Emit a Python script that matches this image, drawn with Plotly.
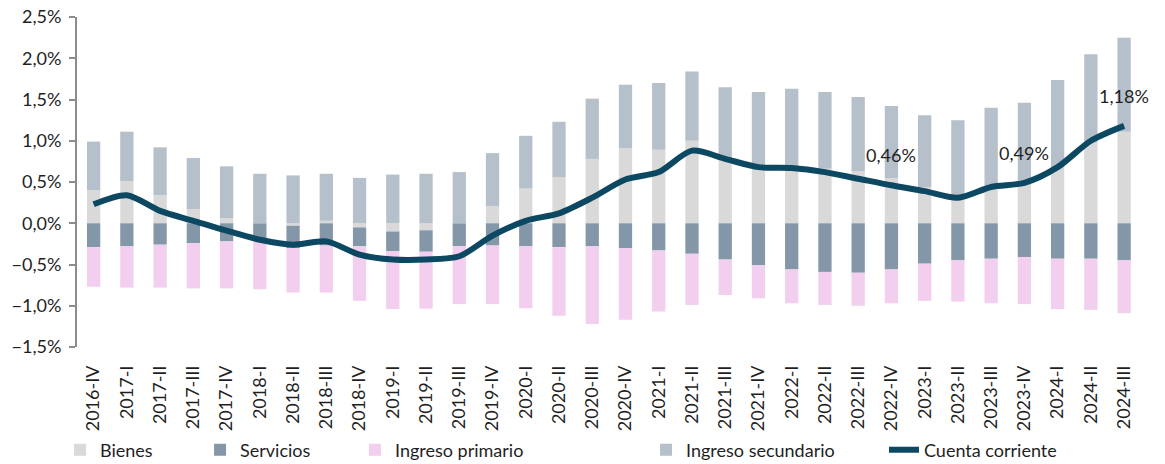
import plotly.graph_objects as go

categories = ["2016-IV",
              "2017-I", "2017-II", "2017-III", "2017-IV",
              "2018-I", "2018-II", "2018-III", "2018-IV",
              "2019-I", "2019-II", "2019-III", "2019-IV",
              "2020-I", "2020-II", "2020-III", "2020-IV",
              "2021-I", "2021-II", "2021-III", "2021-IV",
              "2022-I", "2022-II", "2022-III", "2022-IV",
              "2023-I", "2023-II", "2023-III", "2023-IV",
              "2024-I", "2024-II", "2024-III"]

bienes = [0.40, 0.51, 0.34, 0.17, 0.06, 0.00, -0.03, 0.03, -0.05, -0.10, -0.085, 0.00,
          0.21, 0.42, 0.56, 0.78, 0.91, 0.89, 1.00, 0.78, 0.70, 0.68, 0.66, 0.63,
          0.55, 0.44, 0.30, 0.45, 0.50, 0.68, 0.98, 1.11]
servicios = [-0.29, -0.28, -0.26, -0.24, -0.22, -0.22, -0.27, -0.27, -0.23, -0.24, -0.26, -0.28,
             -0.27, -0.28, -0.29, -0.28, -0.30, -0.33, -0.37, -0.44, -0.51, -0.56, -0.59, -0.60,
             -0.56, -0.49, -0.45, -0.43, -0.41, -0.43, -0.43, -0.45]
ingreso_primario = [-0.48, -0.50, -0.52, -0.55, -0.57, -0.58, -0.54, -0.57, -0.66, -0.70, -0.69, -0.70,
                    -0.71, -0.75, -0.83, -0.94, -0.87, -0.74, -0.62, -0.43, -0.40, -0.41, -0.40, -0.40,
                    -0.41, -0.45, -0.50, -0.54, -0.57, -0.61, -0.62, -0.64]
ingreso_secundario = [0.59, 0.60, 0.58, 0.62, 0.63, 0.60, 0.58, 0.57, 0.55, 0.59, 0.60, 0.62,
                      0.64, 0.64, 0.67, 0.73, 0.77, 0.81, 0.84, 0.87, 0.89, 0.95, 0.93, 0.90,
                      0.87, 0.87, 0.95, 0.95, 0.96, 1.055, 1.07, 1.14]
cuenta_corriente = [0.23, 0.34, 0.15, 0.03, -0.09, -0.20, -0.26, -0.22, -0.38, -0.44, -0.44, -0.40,
                    -0.15, 0.03, 0.12, 0.31, 0.53, 0.62, 0.88, 0.78, 0.68, 0.67, 0.62, 0.54,
                    0.46, 0.39, 0.31, 0.44, 0.49, 0.68, 1.00, 1.18]
labelled_points = ["2022-IV", "2023-IV", "2024-III"]

colors = {
    "Bienes": "#d9d9d9",
    "Servicios": "#8497a9",
    "Ingreso primario": "#f2cfee",
    "Ingreso secundario": "#b5c0ca",
    "Cuenta corriente": "#0c4862",
}

FONT = "Lato"
FS = 18
TXT = "#1f1f1f"
AX = "#8c8c8c"

fig = go.Figure()
bar_series = [("Bienes", bienes, "legend"), ("Servicios", servicios, "legend2"),
              ("Ingreso primario", ingreso_primario, "legend3"),
              ("Ingreso secundario", ingreso_secundario, "legend4")]
for name, vals, lg in bar_series:
    fig.add_trace(go.Bar(x=categories, y=vals, name=name, legend=lg,
                         marker=dict(color=colors[name], line=dict(width=0))))

fig.add_trace(go.Scatter(x=categories, y=cuenta_corriente, name="Cuenta corriente",
                         legend="legend5", mode="lines",
                         line=dict(color=colors["Cuenta corriente"], width=6, shape="spline",
                                   smoothing=0.8)))

for cat in labelled_points:
    i = categories.index(cat)
    v = cuenta_corriente[i]
    fig.add_annotation(x=cat, y=v, text=f"{v:.2f}".replace(".", ",") + "%",
                       showarrow=False, yshift=30, font=dict(family=FONT, size=FS, color=TXT))

n = len(categories)
x_range = [-0.5, 32.23]
y_min, y_max = -1.5, 2.5

legend_common = dict(orientation="h", yanchor="middle", y=-0.312, xanchor="left",
                     font=dict(family=FONT, size=FS, color=TXT), bgcolor="rgba(0,0,0,0)",
                     borderwidth=0)
legend_x = {"legend": -0.0156, "legend2": 0.1131, "legend3": 0.2555,
            "legend4": 0.5230, "legend5": 0.7417}

fig.update_layout(
    width=1165, height=464,
    margin=dict(l=77, r=0, t=17, b=117, autoexpand=False),
    barmode="relative", bargap=0.6,
    plot_bgcolor="white", paper_bgcolor="white",
    separators=",.",
    showlegend=True,
    font=dict(family=FONT, size=FS, color=TXT),
    **{k: dict(legend_common, x=v) for k, v in legend_x.items()},
    xaxis=dict(type="category", range=x_range, tickangle=-90, ticks="", automargin=False,
               showline=False, showgrid=False, zeroline=False, ticklabelstandoff=14,
               tickfont=dict(family=FONT, size=FS, color=TXT)),
    xaxis2=dict(overlaying="x", anchor="free", position=(0 - y_min) / (y_max - y_min),
                range=x_range, type="linear", showline=True, linecolor=AX, linewidth=2,
                ticks="outside", tickvals=[k + 1.5 for k in range(0, n, 2)], ticklen=6,
                tickwidth=2, tickcolor=AX, showticklabels=False, showgrid=False,
                zeroline=False, layer="above traces", automargin=False),
    yaxis=dict(range=[y_min, y_max], dtick=0.5, tick0=0, tickformat=".1f", ticksuffix="%",
               showline=True, linecolor=AX, linewidth=2, ticks="outside", ticklen=6,
               tickwidth=2, tickcolor=AX, showgrid=False, zeroline=False, automargin=False,
               ticklabelstandoff=4, tickfont=dict(family=FONT, size=FS, color=TXT)),
)

# remove the browser's default 8px body margin so the figure fills the window exactly
fig.write_html("out.html", config={"displayModeBar": False},
               post_script="document.body.style.margin='0';")
